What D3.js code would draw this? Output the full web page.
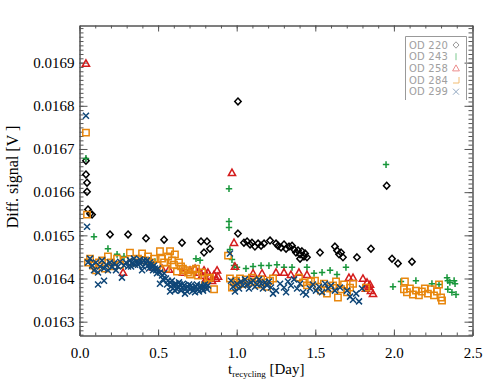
<!DOCTYPE html>
<html>
<head>
<meta charset="utf-8">
<script src="https://cdn.jsdelivr.net/npm/d3@7"></script>
<style>
  body { margin: 0; background: #fff; }
</style>
</head>
<body>
<div id="chart"></div>
<script>
// [t_recycling (day), diff. signal (V)]
var od220 = [
  [0.041, 0.016673], [0.041, 0.016641], [0.048, 0.016622], [0.048, 0.016601], [0.054, 0.016560],
  [0.067, 0.016550], [0.080, 0.016548], [0.194, 0.016502], [0.309, 0.016502], [0.423, 0.016493],
  [0.538, 0.016490], [0.652, 0.016483], [0.773, 0.016486], [0.811, 0.016486], [0.792, 0.016460],
  [0.830, 0.016469], [1.008, 0.016810], [1.008, 0.016504], [1.046, 0.016483], [1.066, 0.016486],
  [1.085, 0.016479], [1.097, 0.016483], [1.116, 0.016474], [1.136, 0.016481], [1.155, 0.016476],
  [1.174, 0.016481], [1.212, 0.016488], [1.250, 0.016481], [1.263, 0.016476], [1.282, 0.016472],
  [1.301, 0.016479], [1.314, 0.016469], [1.333, 0.016474], [1.352, 0.016476], [1.365, 0.016467],
  [1.377, 0.016460], [1.390, 0.016465], [1.403, 0.016456], [1.415, 0.016463], [1.428, 0.016451],
  [1.435, 0.016458], [1.447, 0.016449], [1.403, 0.016446], [1.530, 0.016460], [1.625, 0.016474],
  [1.638, 0.016465], [1.651, 0.016456], [1.664, 0.016460], [1.676, 0.016449], [1.765, 0.016449],
  [1.854, 0.016469], [1.954, 0.016615], [1.988, 0.016446], [2.026, 0.016435], [2.115, 0.016439]
];
var od243 = [
  [0.041, 0.016678], [0.092, 0.016497], [0.181, 0.016469], [0.239, 0.016456], [0.283, 0.016451],
  [0.461, 0.016437], [0.480, 0.016439], [0.741, 0.016446], [0.767, 0.016442], [0.951, 0.016608],
  [0.951, 0.016532], [0.951, 0.016518], [0.957, 0.016467], [0.970, 0.016444], [0.983, 0.016430],
  [1.002, 0.016426], [1.059, 0.016423], [1.104, 0.016428], [1.155, 0.016430], [1.205, 0.016430],
  [1.256, 0.016432], [1.301, 0.016426], [1.352, 0.016426], [1.447, 0.016426], [1.492, 0.016412],
  [1.543, 0.016414], [1.594, 0.016419], [1.638, 0.016409], [1.695, 0.016426], [1.950, 0.016664],
  [1.994, 0.016381], [2.045, 0.016393], [2.140, 0.016395], [2.242, 0.016388], [2.287, 0.016386],
  [2.338, 0.016402], [2.343, 0.016395], [2.356, 0.016391], [2.383, 0.016395], [2.389, 0.016388],
  [2.343, 0.016375], [2.369, 0.016368], [2.395, 0.016363]
];
var od258 = [
  [0.041, 0.016898], [0.277, 0.016414], [0.468, 0.016426], [0.525, 0.016423], [0.569, 0.016421],
  [0.658, 0.016414], [0.703, 0.016419], [0.735, 0.016423], [0.760, 0.016414], [0.779, 0.016407],
  [0.792, 0.016419], [0.805, 0.016400], [0.817, 0.016414], [0.830, 0.016405], [0.843, 0.016395],
  [0.856, 0.016409], [0.868, 0.016400], [0.881, 0.016405], [0.875, 0.016419], [0.970, 0.016645],
  [0.983, 0.016483], [0.989, 0.016428], [1.104, 0.016412], [1.161, 0.016412], [1.250, 0.016414],
  [1.301, 0.016414], [1.345, 0.016409], [1.396, 0.016414], [1.447, 0.016409], [1.714, 0.016402],
  [1.740, 0.016402], [1.803, 0.016400], [1.829, 0.016391], [1.841, 0.016381], [1.854, 0.016372],
  [1.867, 0.016365], [1.848, 0.016386], [1.822, 0.016377]
];
var od284 = [
  [0.041, 0.016738], [0.048, 0.016548], [0.054, 0.016437], [0.067, 0.016446], [0.086, 0.016430],
  [0.105, 0.016419], [0.124, 0.016437], [0.143, 0.016442], [0.162, 0.016423], [0.181, 0.016451],
  [0.200, 0.016437], [0.219, 0.016428], [0.239, 0.016446], [0.258, 0.016432], [0.289, 0.016442],
  [0.321, 0.016460], [0.347, 0.016437], [0.372, 0.016446], [0.398, 0.016458], [0.417, 0.016442],
  [0.436, 0.016451], [0.455, 0.016437], [0.474, 0.016446], [0.493, 0.016430], [0.512, 0.016463],
  [0.525, 0.016446], [0.538, 0.016437], [0.550, 0.016423], [0.563, 0.016451], [0.576, 0.016463],
  [0.588, 0.016442], [0.601, 0.016432], [0.607, 0.016456], [0.620, 0.016416], [0.633, 0.016437],
  [0.646, 0.016428], [0.658, 0.016423], [0.671, 0.016419], [0.690, 0.016414], [0.703, 0.016409],
  [0.722, 0.016419], [0.741, 0.016423], [0.754, 0.016407], [0.779, 0.016414], [0.798, 0.016384],
  [0.817, 0.016400], [0.830, 0.016402], [0.856, 0.016375],
  [0.945, 0.016453], [0.957, 0.016400], [0.970, 0.016379], [0.983, 0.016391], [0.996, 0.016395],
  [1.008, 0.016386], [1.021, 0.016400], [1.040, 0.016388], [1.059, 0.016398], [1.078, 0.016391],
  [1.097, 0.016402], [1.116, 0.016393], [1.136, 0.016386], [1.155, 0.016398], [1.174, 0.016391],
  [1.193, 0.016381], [1.212, 0.016395], [1.231, 0.016400], [1.396, 0.016402], [1.422, 0.016391],
  [1.447, 0.016384], [1.473, 0.016393], [1.498, 0.016395], [1.517, 0.016381], [1.536, 0.016372],
  [1.555, 0.016388], [1.574, 0.016365], [1.594, 0.016377], [1.613, 0.016384], [1.632, 0.016393],
  [1.644, 0.016356], [1.664, 0.016375], [1.683, 0.016386], [1.702, 0.016368], [1.721, 0.016379],
  [1.740, 0.016388], [1.822, 0.016379],
  [2.070, 0.016393], [2.064, 0.016375], [2.083, 0.016368], [2.102, 0.016377], [2.121, 0.016363],
  [2.140, 0.016372], [2.159, 0.016361], [2.178, 0.016370], [2.197, 0.016377], [2.216, 0.016365],
  [2.235, 0.016375], [2.255, 0.016361], [2.274, 0.016370], [2.287, 0.016386], [2.300, 0.016356],
  [2.306, 0.016349]
];
var od299 = [
  [0.041, 0.016777], [0.048, 0.016520], [0.054, 0.016437], [0.067, 0.016446], [0.080, 0.016430],
  [0.092, 0.016419], [0.105, 0.016437], [0.118, 0.016414], [0.118, 0.016386], [0.130, 0.016428],
  [0.143, 0.016442], [0.156, 0.016423], [0.156, 0.016395], [0.169, 0.016432], [0.181, 0.016419],
  [0.194, 0.016437], [0.207, 0.016426], [0.219, 0.016435], [0.232, 0.016419], [0.245, 0.016428],
  [0.258, 0.016439], [0.270, 0.016402], [0.283, 0.016430], [0.296, 0.016437], [0.309, 0.016428],
  [0.321, 0.016442], [0.334, 0.016435], [0.347, 0.016446], [0.359, 0.016439], [0.372, 0.016432],
  [0.385, 0.016444], [0.398, 0.016437], [0.398, 0.016419], [0.410, 0.016442], [0.423, 0.016435],
  [0.436, 0.016430], [0.448, 0.016437], [0.461, 0.016426], [0.474, 0.016430], [0.487, 0.016419],
  [0.499, 0.016423], [0.512, 0.016414], [0.512, 0.016388], [0.525, 0.016407], [0.538, 0.016412],
  [0.550, 0.016400], [0.563, 0.016395], [0.576, 0.016391], [0.576, 0.016370], [0.588, 0.016395],
  [0.601, 0.016386], [0.607, 0.016372], [0.614, 0.016388], [0.627, 0.016381], [0.639, 0.016386],
  [0.652, 0.016379], [0.665, 0.016384], [0.671, 0.016365], [0.677, 0.016377], [0.690, 0.016381],
  [0.703, 0.016375], [0.716, 0.016379], [0.728, 0.016377], [0.735, 0.016368], [0.741, 0.016381],
  [0.754, 0.016375], [0.767, 0.016379], [0.779, 0.016377], [0.792, 0.016381], [0.805, 0.016379],
  [0.817, 0.016384],
  [0.531, 0.016398], [0.557, 0.016386], [0.582, 0.016381], [0.595, 0.016377], [0.620, 0.016375],
  [0.633, 0.016391], [0.646, 0.016372], [0.658, 0.016388], [0.684, 0.016370], [0.697, 0.016386],
  [0.709, 0.016384], [0.722, 0.016372], [0.747, 0.016386], [0.760, 0.016370], [0.773, 0.016384],
  [0.786, 0.016372], [0.798, 0.016386], [0.811, 0.016375],
  [0.328, 0.016428], [0.353, 0.016432], [0.379, 0.016437], [0.404, 0.016428], [0.429, 0.016442],
  [0.442, 0.016423], [0.455, 0.016432], [0.468, 0.016419], [0.480, 0.016423], [0.493, 0.016412],
  [0.957, 0.016458], [0.964, 0.016395], [0.976, 0.016381], [0.989, 0.016370], [1.002, 0.016388],
  [1.015, 0.016377], [1.027, 0.016393], [1.040, 0.016384], [1.053, 0.016398], [1.066, 0.016386],
  [1.078, 0.016377], [1.091, 0.016391], [1.104, 0.016395], [1.116, 0.016381], [1.129, 0.016386],
  [1.142, 0.016398], [1.155, 0.016388], [1.167, 0.016377], [1.180, 0.016391], [1.193, 0.016384],
  [1.205, 0.016393], [1.218, 0.016379], [1.231, 0.016365], [1.250, 0.016372], [1.276, 0.016388],
  [1.301, 0.016379], [1.314, 0.016368], [1.326, 0.016393], [1.345, 0.016384], [1.365, 0.016398],
  [1.384, 0.016377], [1.403, 0.016388], [1.422, 0.016368], [1.441, 0.016363], [1.466, 0.016377],
  [1.485, 0.016386], [1.504, 0.016372], [1.524, 0.016381], [1.543, 0.016368], [1.562, 0.016388],
  [1.581, 0.016377], [1.600, 0.016384], [1.625, 0.016372], [1.657, 0.016379], [1.702, 0.016372],
  [1.721, 0.016358], [1.740, 0.016351], [1.760, 0.016365], [1.778, 0.016347], [1.797, 0.016377]
];

var seriesNames = ["OD 220", "OD 243", "OD 258", "OD 284", "OD 299"];
var seriesColors = ["#000000", "#17963a", "#d41c1c", "#e8870e", "#0f4677"];
var legendColors = ["#9a9a9a", "#7cc98f", "#ec8c8c", "#f2bd73", "#93a9c2"];
var xTicks = [0.0, 0.5, 1.0, 1.5, 2.0, 2.5];
var yTicks = [0.0163, 0.0164, 0.0165, 0.0166, 0.0167, 0.0168, 0.0169];

var width = 498, height = 387;
var plot = { left: 79.5, right: 472.5, top: 25.5, bottom: 335.5 };

var svg = d3.select("#chart").append("svg")
  .attr("width", width)
  .attr("height", height);

svg.append("rect")
  .attr("width", width)
  .attr("height", height)
  .attr("fill", "#fff");

var x = d3.scaleLinear()
  .domain([0, 2.5])
  .range([plot.left, plot.right]);

var y = d3.scaleLinear()
  .domain([0.016268, 0.016986])
  .range([plot.bottom, plot.top]);

var axisColor = "#555";
var serif = "'Liberation Serif', 'DejaVu Serif', serif";

// minor ticks
var xMinor = d3.range(0, 26).map((d) => d / 10);
var yMinor = d3.range(1627, 1699).map((d) => d / 100000);

function styleAxis(g) {
  g.select(".domain").attr("stroke", axisColor);
  g.selectAll(".tick line").attr("stroke", axisColor);
}

svg.append("g")
  .attr("transform", "translate(0," + plot.bottom + ")")
  .call(d3.axisBottom(x).tickValues(xMinor).tickSize(-3).tickSizeOuter(0).tickFormat(""))
  .call(styleAxis);
svg.append("g")
  .attr("transform", "translate(0," + plot.top + ")")
  .call(d3.axisTop(x).tickValues(xMinor).tickSize(-3).tickSizeOuter(0).tickFormat(""))
  .call(styleAxis);
svg.append("g")
  .attr("transform", "translate(" + plot.left + ",0)")
  .call(d3.axisLeft(y).tickValues(yMinor).tickSize(-4).tickSizeOuter(0).tickFormat(""))
  .call(styleAxis);
svg.append("g")
  .attr("transform", "translate(" + plot.right + ",0)")
  .call(d3.axisRight(y).tickValues(yMinor).tickSize(-4).tickSizeOuter(0).tickFormat(""))
  .call(styleAxis);

// major ticks and labels
var xAxis = svg.append("g")
  .attr("transform", "translate(0," + plot.bottom + ")")
  .call(d3.axisBottom(x).tickValues(xTicks).tickSize(-6).tickSizeOuter(0)
    .tickPadding(12).tickFormat(d3.format(".1f")))
  .call(styleAxis);
xAxis.selectAll("text")
  .attr("fill", "#000")
  .style("font-family", serif)
  .style("font-size", "15px");

svg.append("g")
  .attr("transform", "translate(0," + plot.top + ")")
  .call(d3.axisTop(x).tickValues(xTicks).tickSize(-6).tickSizeOuter(0).tickFormat(""))
  .call(styleAxis);

var yAxis = svg.append("g")
  .attr("transform", "translate(" + plot.left + ",0)")
  .call(d3.axisLeft(y).tickValues(yTicks).tickSize(-8).tickSizeOuter(0)
    .tickPadding(5).tickFormat(d3.format(".4f")))
  .call(styleAxis);
yAxis.selectAll("text")
  .attr("fill", "#000")
  .style("font-family", serif)
  .style("font-size", "15px");

svg.append("g")
  .attr("transform", "translate(" + plot.right + ",0)")
  .call(d3.axisRight(y).tickValues(yTicks).tickSize(-8).tickSizeOuter(0).tickFormat(""))
  .call(styleAxis);

// axis titles
var xTitle = svg.append("text")
  .attr("x", 228)
  .attr("y", 374)
  .attr("fill", "#000")
  .style("font-family", serif)
  .style("font-size", "15px");
xTitle.append("tspan").text("t");
xTitle.append("tspan")
  .attr("dy", 3)
  .style("font-size", "9px")
  .text("recycling");
xTitle.append("tspan")
  .attr("dy", -3)
  .text(" [Day]");

svg.append("text")
  .attr("transform", "translate(18,177) rotate(-90)")
  .attr("text-anchor", "middle")
  .attr("fill", "#000")
  .style("font-family", serif)
  .style("font-size", "16px")
  .text("Diff. signal [V  ]");

// marker shapes
var shapes = [
  "M0,-3.4L3.2,0L0,3.4L-3.2,0Z",
  "M-3.2,0H3.2M0,-3.4V3.4",
  "M0,-3.6L3.6,2.8L-3.6,2.8Z",
  "M-3.2,-3.2H3.2V3.2H-3.2Z",
  "M-3,-3L3,3M-3,3L3,-3"
];
var allSeries = [od220, od243, od258, od284, od299];

var markGroup = svg.append("g").attr("class", "marks");
allSeries.forEach((data, i) => {
  markGroup.append("g")
    .attr("class", "series-" + i)
    .selectAll("path")
    .data(data)
    .enter()
    .append("path")
    .attr("d", shapes[i])
    .attr("transform", (d) => "translate(" + x(d[0]) + "," + y(d[1]) + ")")
    .attr("fill", "none")
    .attr("stroke", seriesColors[i])
    .attr("stroke-width", 1.5);
});

// legend
var legend = svg.append("g").attr("class", "legend");
legend.append("path")
  .attr("d", "M405.5,100V36.5H466.5V100")
  .attr("fill", "none")
  .attr("stroke", "#999")
  .attr("stroke-width", 1);

var legendShapes = [
  "M0,-3.2L3,0L0,3.2L-3,0Z",
  "M0,-3.5V3.5",
  "M0,-3.4L3.4,2.6L-3.4,2.6Z",
  "M-3,3H3V-3",
  "M-3,-3L3,3M-3,3L3,-3"
];
var rowY = [45, 56.7, 68.3, 80, 91.7];

legend.selectAll(".legend-text")
  .data(seriesNames)
  .enter()
  .append("text")
  .attr("class", "legend-text")
  .attr("x", 409)
  .attr("y", (d, i) => rowY[i] + 3.6)
  .attr("fill", "#a0a0a0")
  .style("font-family", "'DejaVu Sans', sans-serif")
  .style("font-size", "10px")
  .style("letter-spacing", "0.2px")
  .text((d) => d);

legend.selectAll(".legend-sym")
  .data(legendShapes)
  .enter()
  .append("path")
  .attr("class", "legend-sym")
  .attr("d", (d) => d)
  .attr("transform", (d, i) => "translate(456," + rowY[i] + ")")
  .attr("fill", "none")
  .attr("stroke", (d, i) => legendColors[i])
  .attr("stroke-width", 1);
</script>
</body>
</html>
